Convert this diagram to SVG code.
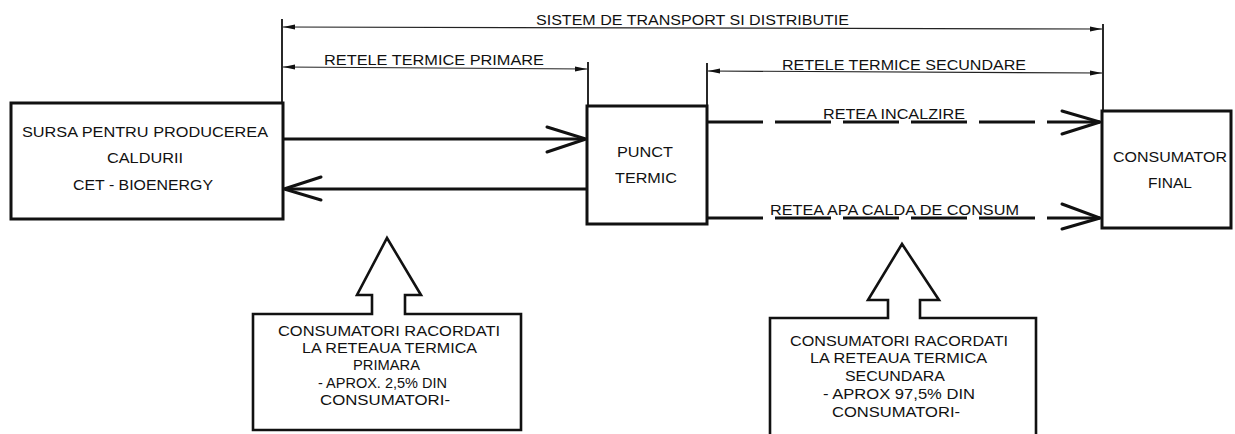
<svg xmlns="http://www.w3.org/2000/svg" width="1235" height="434" viewBox="0 0 1235 434">
<defs>
<style>
text{font-family:"Liberation Sans",Arial,sans-serif;font-size:14px;fill:#111;}
.box{fill:#fff;stroke:#111;stroke-width:3;}
.call{fill:#fff;stroke:#111;stroke-width:2.6;stroke-linejoin:miter;}
.flow{fill:none;stroke:#111;stroke-width:3;}
.dash{fill:none;stroke:#111;stroke-width:3;stroke-dasharray:56 12;}
.head{fill:none;stroke:#111;stroke-width:3;stroke-linecap:round;stroke-linejoin:miter;}
.dim{fill:none;stroke:#222;stroke-width:1.2;}
.tick{fill:none;stroke:#111;stroke-width:1.8;}
</style>
<marker id="dimhead" viewBox="0 0 12 6" refX="12" refY="3" markerUnits="userSpaceOnUse" markerWidth="12" markerHeight="6" orient="auto-start-reverse">
<path d="M0,0.5 L12,3 L0,5.5 z" fill="#111"/>
</marker>
</defs>
<rect width="1235" height="434" fill="#fff"/>

<g id="connectors">
<line class="tick" x1="282" y1="19" x2="282" y2="103"/>
<line class="tick" x1="1103" y1="24" x2="1103" y2="111"/>
<line class="tick" x1="588" y1="62" x2="588" y2="106"/>
<line class="tick" x1="707" y1="63" x2="707" y2="118"/>
<line class="dim" x1="283" y1="27" x2="1102" y2="29" marker-start="url(#dimhead)" marker-end="url(#dimhead)"/>
<line class="dim" x1="283" y1="67" x2="587" y2="69" marker-start="url(#dimhead)" marker-end="url(#dimhead)"/>
<line class="dim" x1="708" y1="71" x2="1102" y2="73" marker-start="url(#dimhead)" marker-end="url(#dimhead)"/>
<text x="536" y="25" textLength="313" lengthAdjust="spacingAndGlyphs">SISTEM DE TRANSPORT SI DISTRIBUTIE</text>
<text x="324" y="65" textLength="220" lengthAdjust="spacingAndGlyphs">RETELE TERMICE PRIMARE</text>
<text x="782" y="70" textLength="244" lengthAdjust="spacingAndGlyphs">RETELE TERMICE SECUNDARE</text>

<line class="flow" x1="283" y1="139" x2="585" y2="139"/>
<polyline class="head" points="547,127 586,139 547,152"/>
<line class="flow" x1="587" y1="189" x2="285" y2="189"/>
<polyline class="head" points="321,177 284,189 321,200"/>

<line class="dash" x1="707" y1="122" x2="1100" y2="122"/>
<polyline class="head" points="1062,111 1100,122 1062,134"/>
<text x="823" y="119" textLength="142" lengthAdjust="spacingAndGlyphs">RETEA INCALZIRE</text>
<line class="dash" x1="707" y1="218" x2="1100" y2="218"/>
<polyline class="head" points="1062,204 1100,218 1062,229"/>
<text x="770" y="215" textLength="249" lengthAdjust="spacingAndGlyphs">RETEA APA CALDA DE CONSUM</text>
</g>

<g id="source">
<rect class="box" x="11" y="103" width="272" height="116"/>
<text x="22" y="137" textLength="246" lengthAdjust="spacingAndGlyphs">SURSA PENTRU PRODUCEREA</text>
<text x="107" y="163" textLength="76" lengthAdjust="spacingAndGlyphs">CALDURII</text>
<text x="73" y="190" textLength="140" lengthAdjust="spacingAndGlyphs">CET - BIOENERGY</text>
</g>

<g id="punct-termic">
<rect class="box" x="587" y="106" width="120" height="118"/>
<text x="617" y="157" textLength="56" lengthAdjust="spacingAndGlyphs">PUNCT</text>
<text x="615" y="183" textLength="62" lengthAdjust="spacingAndGlyphs">TERMIC</text>
</g>

<g id="consumator-final">
<rect class="box" x="1102" y="111" width="129" height="117"/>
<text x="1113" y="162" textLength="114" lengthAdjust="spacingAndGlyphs">CONSUMATOR</text>
<text x="1148" y="188" textLength="44" lengthAdjust="spacingAndGlyphs">FINAL</text>
</g>

<g id="callout-primar">
<path class="call" d="M387,238 L421,295 L405,295 L405,314 L521,314 L521,430 L253,430 L253,314 L372,314 L372,295 L357,295 Z"/>
<text x="278" y="336" textLength="222" lengthAdjust="spacingAndGlyphs">CONSUMATORI RACORDATI</text>
<text x="302" y="353" textLength="175" lengthAdjust="spacingAndGlyphs">LA RETEAUA TERMICA</text>
<text x="353" y="370" textLength="67" lengthAdjust="spacingAndGlyphs">PRIMARA</text>
<text x="318" y="388" textLength="129" lengthAdjust="spacingAndGlyphs">- APROX. 2,5% DIN</text>
<text x="320" y="405" textLength="130" lengthAdjust="spacingAndGlyphs">CONSUMATORI-</text>
</g>

<g id="callout-secundar">
<path class="call" d="M770,440 L770,318 L888,318 L888,300 L868,300 L902,244 L939,300 L920,300 L920,318 L1036,318 L1036,440"/>
<text x="790" y="346" textLength="218" lengthAdjust="spacingAndGlyphs">CONSUMATORI RACORDATI</text>
<text x="810" y="363" textLength="177" lengthAdjust="spacingAndGlyphs">LA RETEAUA TERMICA</text>
<text x="845" y="381" textLength="100" lengthAdjust="spacingAndGlyphs">SECUNDARA</text>
<text x="823" y="399" textLength="152" lengthAdjust="spacingAndGlyphs">- APROX  97,5% DIN</text>
<text x="832" y="417" textLength="128" lengthAdjust="spacingAndGlyphs">CONSUMATORI-</text>
</g>
</svg>
